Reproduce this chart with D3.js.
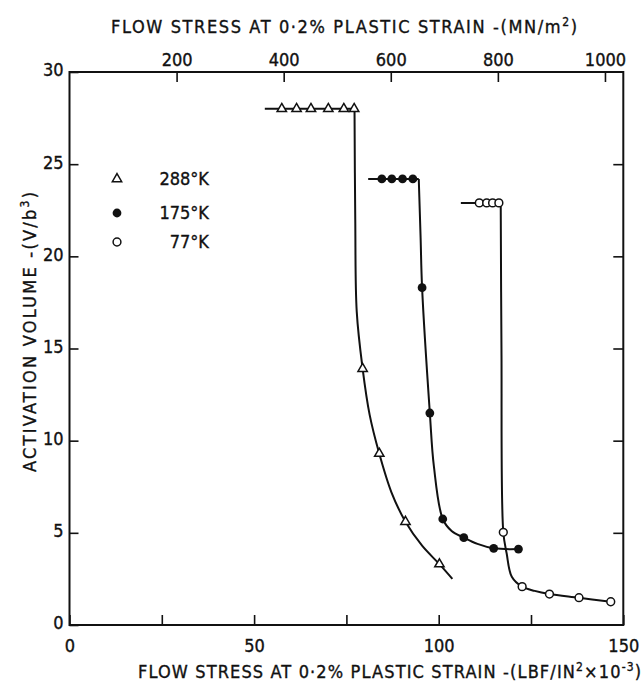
<!DOCTYPE html>
<html lang="en">
<head>
<meta charset="utf-8">
<title>Activation volume vs flow stress</title>
<style>
  body { margin: 0; background: #fff; }
  svg { display: block; }
  text { font-family: "DejaVu Sans Condensed", "DejaVu Sans", sans-serif; font-size: 18px; fill: #111; stroke: #111; stroke-width: 0.35; }
  .frame { fill: none; stroke: #111; stroke-width: 2; }
  .axis .tick line { stroke: #111; stroke-width: 1.6; }
  .axis path.domain { display: none; }
  .fit { fill: none; stroke: #111; stroke-width: 2; }
</style>
</head>
<body>
<svg id="chart" width="643" height="684"></svg>
<script src="https://cdn.jsdelivr.net/npm/d3@7"></script>
<script>
// axis ticks
var xTicks = [0, 25, 50, 75, 100, 125, 150];
var xLabels = [0, 50, 100, 150];
var yTicks = [0, 5, 10, 15, 20, 25, 30];
var topTicks = [200, 400, 600, 800, 1000];
var ksiToMN = 6.895;   // 1 ksi in MN/m2

// measured points  [ksi, V/b3]
var pts288 = [[57.5,28],[61.5,28],[65.4,28],[70.1,28],[74.3,28],[77.1,28],
              [79.4,13.9],[83.9,9.3],[91.0,5.6],[100.2,3.3]];
var pts175 = [[84.6,24.2],[87.3,24.2],[90.2,24.2],[93.0,24.2],
              [95.5,18.3],[97.6,11.5],[101.1,5.75],[106.8,4.74],[114.9,4.16],[121.6,4.12]];
var pts77  = [[111.0,22.9],[113.0,22.9],[114.6,22.9],[116.3,22.9],
              [117.5,5.03],[122.6,2.08],[130.0,1.68],[138.0,1.48],[146.6,1.26]];

// hand drawn curves: flat part + drop
var flat288 = [[52.9,28],[77.2,28]];
var drop288 = [[77.2,28],[77.4,22],[77.8,17],[79.4,13.9],[81.3,11.4],[83.9,9.3],[87.2,7.2],[91.0,5.6],[95.5,4.3],[100.2,3.3],[103.7,2.5]];
var flat175 = [[80.9,24.2],[94.6,24.2]];
var drop175 = [[94.6,24.2],[95.1,21],[95.5,18.3],[97.6,11.5],[98.7,8.6],[101.1,5.75],[103.5,5.1],[106.8,4.74],[110.5,4.4],[114.9,4.16],[121.6,4.12]];
var flat77  = [[106.0,22.9],[116.8,22.9]];
var drop77  = [[116.8,22.9],[117.0,15],[117.5,5.03],[118.4,3.89],[119.8,2.62],[122.6,2.08],[126.0,1.85],[130.0,1.68],[138.0,1.48],[146.6,1.26]];

var legendItems = [
  {label: "288°K", kind: "tri"},
  {label: "175°K", kind: "dot"},
  {label: "77°K",  kind: "ring"}
];

var svg = d3.select("#chart"),
    W = +svg.attr("width"), H = +svg.attr("height"),
    m = {top: 72, right: 19.7, bottom: 59, left: 69.5};

var x = d3.scaleLinear().domain([0, 150]).range([m.left, W - m.right]);
var xTop = d3.scaleLinear().domain([0, 150 * ksiToMN]).range([m.left, W - m.right]);
var y = d3.scaleLinear().domain([0, 30]).range([H - m.bottom, m.top]);

// axes (ticks point inward)
svg.append("g").attr("class", "axis")
    .attr("transform", "translate(0," + y(0) + ")")
    .call(d3.axisBottom(x).tickValues(xTicks).tickSizeInner(-10).tickSizeOuter(0).tickPadding(10)
      .tickFormat(function(d) { return xLabels.indexOf(d) >= 0 ? d : ""; }))
    .selectAll("text").attr("dy", "0.95em");

svg.append("g").attr("class", "axis")
    .attr("transform", "translate(0," + y(30) + ")")
    .call(d3.axisTop(xTop).tickValues(topTicks).tickSizeInner(-10).tickSizeOuter(0).tickPadding(6)
      .tickFormat(d3.format("d")))
    .selectAll("text").attr("dy", "0");

svg.append("g").attr("class", "axis")
    .attr("transform", "translate(" + x(0) + ",0)")
    .call(d3.axisLeft(y).tickValues(yTicks).tickSizeInner(-9).tickSizeOuter(0).tickPadding(6))
    .selectAll("text").attr("dy", "0.22em");

svg.append("g").attr("class", "axis")
    .attr("transform", "translate(" + x(150) + ",0)")
    .call(d3.axisRight(y).tickValues(yTicks.slice(1, -1)).tickSizeInner(-10).tickSizeOuter(0).tickFormat(""));

svg.selectAll(".axis").attr("font-family", null).attr("font-size", null);

svg.append("rect").attr("class", "frame")
    .attr("x", x(0)).attr("y", y(30))
    .attr("width", x(150) - x(0)).attr("height", y(0) - y(30));

// titles
var tTop = svg.append("text").attr("x", 111).attr("y", 33)
    .attr("textLength", 466).attr("lengthAdjust", "spacing");
tTop.append("tspan").text("FLOW STRESS AT 0·2% PLASTIC STRAIN -(MN/m");
tTop.append("tspan").attr("dy", -7).style("font-size", "12px").text("2");
tTop.append("tspan").attr("dy", 7).text(")");

var tBot = svg.append("text").attr("x", 138).attr("y", 678)
    .attr("textLength", 503).attr("lengthAdjust", "spacing");
tBot.append("tspan").text("FLOW STRESS AT 0·2% PLASTIC STRAIN -(LBF/IN");
tBot.append("tspan").attr("dy", -7).style("font-size", "12px").text("2");
tBot.append("tspan").attr("dy", 7).text("×10");
tBot.append("tspan").attr("dy", -7).style("font-size", "12px").text("-3");
tBot.append("tspan").attr("dy", 7).text(")");

var tY = svg.append("text")
    .attr("transform", "translate(36,472) rotate(-90)")
    .attr("textLength", 280).attr("lengthAdjust", "spacing");
tY.append("tspan").text("ACTIVATION VOLUME -(V/b");
tY.append("tspan").attr("dy", -7).style("font-size", "12px").text("3");
tY.append("tspan").attr("dy", 7).text(")");

// fitted curves
var flatLine = d3.line().x(function(d) { return x(d[0]); }).y(function(d) { return y(d[1]); });
var dropLine = d3.line().x(function(d) { return x(d[0]); }).y(function(d) { return y(d[1]); })
    .curve(d3.curveCatmullRom.alpha(0.5));

[flat288, flat175, flat77].forEach(function(s) {
  svg.append("path").attr("class", "fit").attr("d", flatLine(s));
});
[drop288, drop175, drop77].forEach(function(s) {
  svg.append("path").attr("class", "fit").attr("d", dropLine(s));
});

// markers
var tri = d3.symbol().type(d3.symbolTriangle).size(38);

function drawMarker(g, kind) {
  if (kind === "tri") {
    g.append("path").attr("d", tri()).attr("fill", "#fff").attr("stroke", "#111").attr("stroke-width", 1.5);
  } else if (kind === "dot") {
    g.append("circle").attr("r", 4.4).attr("fill", "#111");
  } else {
    g.append("circle").attr("r", 3.9).attr("fill", "#fff").attr("stroke", "#111").attr("stroke-width", 1.5);
  }
}

[[pts288, "tri"], [pts175, "dot"], [pts77, "ring"]].forEach(function(s) {
  svg.append("g").selectAll("g")
    .data(s[0]).enter().append("g")
    .attr("transform", function(d) { return "translate(" + x(d[0]) + "," + y(d[1]) + ")"; })
    .each(function() { drawMarker(d3.select(this), s[1]); });
});

// legend
var legY = [179, 213, 242];
legendItems.forEach(function(it, i) {
  var g = svg.append("g").attr("transform", "translate(117," + legY[i] + ")");
  drawMarker(g, it.kind);
  svg.append("text").attr("x", 209).attr("y", legY[i] + 6)
    .attr("text-anchor", "end").text(it.label);
});
</script>
</body>
</html>
